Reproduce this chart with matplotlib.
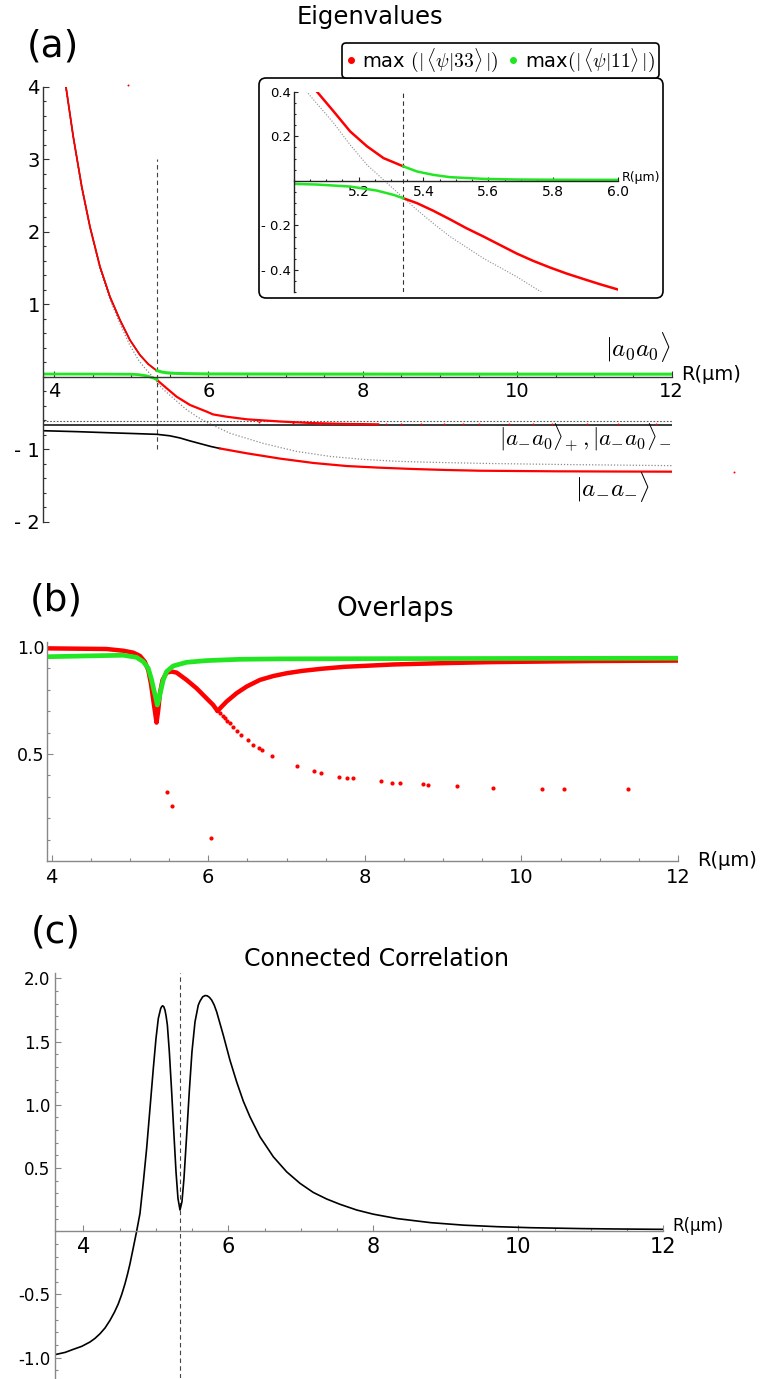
import matplotlib
matplotlib.use("Agg")
import matplotlib.pyplot as plt
from matplotlib.patches import FancyBboxPatch
from matplotlib.lines import Line2D
from matplotlib.ticker import MultipleLocator, FixedLocator, FixedFormatter

plt.rcParams['font.family'] = ['DejaVu Sans']
plt.rcParams['mathtext.fontset'] = 'cm'

# ---------------------------------------------------------------- data
R_CROSS = 5.335
cross_span = [-1.0, 3.0]

# (a) eigenvalues, main panel
a_up_red_R = [4.155, 4.25, 4.36, 4.466, 4.596, 4.725, 4.855, 4.984, 5.114, 5.22, 5.308, 5.335]
a_up_red_E = [4.0, 3.31, 2.62, 2.07, 1.517, 1.103, 0.782, 0.506, 0.299, 0.175, 0.102, 0.083]
a_up_green_R = [5.335, 5.395, 5.46, 5.546, 5.7, 5.98, 7.0, 9.0, 12.0]
a_up_green_E = [0.083, 0.065, 0.054, 0.047, 0.042, 0.038, 0.036, 0.035, 0.035]
a_low_green_R = [3.854, 4.5, 5.0, 5.1, 5.2, 5.28, 5.335]
a_low_green_E = [0.037, 0.036, 0.034, 0.028, 0.012, -0.015, -0.04]
a_low_red_R = [5.335, 5.4, 5.46, 5.589, 5.762, 5.978, 6.06, 6.237, 6.5, 6.93, 7.36, 7.8, 8.2]
a_low_red_E = [-0.045, -0.105, -0.16, -0.276, -0.39, -0.482, -0.52, -0.552, -0.588, -0.618, -0.64, -0.652, -0.657]
a_pair_dots_R = [6.65, 7.1, 7.3, 7.45, 7.6, 7.85, 8.0, 8.3, 8.5, 8.75, 9.05, 9.3, 9.5, 9.9, 10.2, 10.45, 10.9, 11.3, 11.8]
a_pair_dots_E = [-0.625, -0.64, -0.645, -0.648, -0.65, -0.652, -0.654, -0.655, -0.655, -0.656, -0.656,
                 -0.657, -0.657, -0.657, -0.658, -0.658, -0.658, -0.658, -0.658]
a_ll_black_R = [3.854, 4.3, 4.68, 5.0, 5.335, 5.5, 5.632, 5.76, 5.9, 6.03, 6.15]
a_ll_black_E = [-0.745, -0.758, -0.772, -0.783, -0.795, -0.815, -0.845, -0.885, -0.925, -0.962, -0.99]
a_ll_red_R = [6.15, 6.5, 6.93, 7.36, 7.79, 8.22, 8.65, 9.09, 9.52, 10.5, 11.3, 12.0]
a_ll_red_E = [-0.99, -1.057, -1.13, -1.19, -1.232, -1.255, -1.273, -1.287, -1.297, -1.305, -1.308, -1.31]
a_dia_R = [4.15, 4.25, 4.36, 4.47, 4.6, 4.73, 4.86, 4.98, 5.1, 5.2, 5.28, 5.4, 5.55, 5.7, 5.85, 5.98,
           6.28, 6.71, 7.14, 7.58, 8.0, 8.44, 8.87, 9.52, 10.5, 12.0]
a_dia_E = [4.0, 3.28, 2.58, 2.02, 1.47, 1.05, 0.72, 0.44, 0.22, 0.09, 0.0, -0.16, -0.3, -0.44, -0.55, -0.63,
           -0.78, -0.92, -1.03, -1.10, -1.14, -1.167, -1.18, -1.195, -1.21, -1.227]
a_pair_level = -0.66
a_pair_dia_level = -0.615
a_stray_R = [4.96, 12.81]
a_stray_E = [4.02, -1.32]

# (a) eigenvalues, close-up around the avoided crossing
in_up_red_R = [5.072, 5.123, 5.174, 5.226, 5.277, 5.338]
in_up_red_E = [0.4, 0.312, 0.222, 0.155, 0.102, 0.065]
in_up_green_R = [5.338, 5.38, 5.43, 5.482, 5.585, 5.687, 5.8, 6.0]
in_up_green_E = [0.065, 0.042, 0.027, 0.0165, 0.009, 0.006, 0.005, 0.0045]
in_low_green_R = [5.0, 5.072, 5.174, 5.256, 5.308, 5.338]
in_low_green_E = [-0.0135, -0.0165, -0.0255, -0.0435, -0.063, -0.078]
in_low_red_R = [5.338, 5.38, 5.43, 5.482, 5.533, 5.585, 5.636, 5.687, 5.738, 5.79, 5.841, 5.892, 5.944, 6.0]
in_low_red_E = [-0.078, -0.10, -0.134, -0.173, -0.213, -0.25, -0.288, -0.326, -0.359, -0.389, -0.416,
                -0.44, -0.464, -0.488]
in_dia_R = [5.039, 5.123, 5.174, 5.226, 5.277, 5.328, 5.38, 5.436, 5.482, 5.585, 5.687, 5.764]
in_dia_E = [0.402, 0.26, 0.162, 0.072, 0.0045, -0.063, -0.13, -0.198, -0.25, -0.348, -0.43, -0.5]

# (b) overlaps
b_red_R = [3.945, 4.70, 4.915, 5.043, 5.128, 5.19, 5.234, 5.268, 5.298, 5.323, 5.34, 5.362, 5.383,
           5.417, 5.468, 5.532, 5.596, 5.723, 5.851, 5.979, 6.064, 6.119]
b_red_O = [0.992, 0.989, 0.981, 0.972, 0.957, 0.930, 0.891, 0.829, 0.752, 0.689, 0.646, 0.705, 0.783,
           0.845, 0.879, 0.884, 0.879, 0.845, 0.806, 0.759, 0.728, 0.700]
b_red2_R = [6.119, 6.17, 6.234, 6.362, 6.49, 6.66, 6.83, 7.0, 7.2, 7.45, 7.74, 8.37, 9.0, 9.63, 10.89, 12.0]
b_red2_O = [0.700, 0.720, 0.744, 0.783, 0.814, 0.845, 0.863, 0.876, 0.887, 0.897, 0.906, 0.917, 0.923,
            0.928, 0.933, 0.935]
b_red_pts_R = [6.149, 6.183, 6.213, 6.243, 6.277, 6.311, 6.37, 6.417, 6.511, 6.574, 6.643, 6.689, 6.809,
               7.138, 7.345, 7.439, 7.666, 7.773, 7.855, 8.20, 8.345, 8.446, 8.747, 8.81, 9.175, 9.641,
               10.257, 10.539, 11.358, 5.477, 5.532, 6.03]
b_red_pts_O = [0.689, 0.677, 0.666, 0.655, 0.643, 0.627, 0.609, 0.589, 0.565, 0.542, 0.526, 0.519, 0.491,
               0.444, 0.422, 0.410, 0.394, 0.389, 0.386, 0.374, 0.366, 0.366, 0.359, 0.354, 0.349, 0.341,
               0.338, 0.335, 0.335, 0.321, 0.259, 0.107]
b_green_R = [3.945, 4.489, 4.915, 5.085, 5.17, 5.234, 5.277, 5.306, 5.332, 5.349, 5.37, 5.391, 5.426,
             5.468, 5.553, 5.723, 5.979, 6.404, 6.915, 8.37, 10.0, 12.0]
b_green_O = [0.953, 0.957, 0.960, 0.950, 0.930, 0.899, 0.845, 0.798, 0.759, 0.728, 0.752, 0.790, 0.845,
             0.884, 0.910, 0.927, 0.935, 0.941, 0.943, 0.944, 0.945, 0.946]

# (c) connected correlation
c_R = [3.609, 3.75, 3.862, 3.98, 4.092, 4.16, 4.23, 4.3, 4.368, 4.43, 4.483, 4.53, 4.575, 4.61, 4.644,
       4.69, 4.736, 4.782, 4.829, 4.874, 4.92, 4.966, 5.003, 5.035, 5.068, 5.082, 5.095, 5.111, 5.127,
       5.143, 5.16, 5.187, 5.219, 5.251, 5.279, 5.306, 5.334, 5.361, 5.389, 5.426, 5.462, 5.499, 5.541,
       5.586, 5.61, 5.647, 5.68, 5.71, 5.74, 5.771, 5.805, 5.84, 5.931, 6.023, 6.115, 6.207, 6.299,
       6.437, 6.621, 6.805, 6.989, 7.172, 7.357, 7.541, 7.771, 8.0, 8.33, 8.79, 9.25, 9.71, 10.17,
       10.87, 11.33, 12.0]
c_C = [-0.976, -0.958, -0.934, -0.91, -0.876, -0.848, -0.811, -0.765, -0.705, -0.64, -0.574, -0.5, -0.416,
       -0.34, -0.258, -0.13, 0.0, 0.141, 0.392, 0.655, 0.971, 1.288, 1.525, 1.683, 1.762, 1.777, 1.783,
       1.775, 1.749, 1.70, 1.63, 1.419, 1.103, 0.76, 0.47, 0.26, 0.168, 0.233, 0.418, 0.76, 1.103, 1.419,
       1.656, 1.788, 1.82, 1.854, 1.864, 1.862, 1.85, 1.828, 1.79, 1.735, 1.551, 1.353, 1.182, 1.029,
       0.905, 0.747, 0.589, 0.47, 0.379, 0.307, 0.255, 0.213, 0.168, 0.135, 0.1, 0.068, 0.048, 0.036,
       0.028, 0.021, 0.018, 0.015]

x_major = [4, 6, 8, 10, 12]
a_yticks = [-2, -1, 1, 2, 3, 4]
a_yticklabels = ['- 2', '- 1', '1', '2', '3', '4']
in_xticks = [5.2, 5.4, 5.6, 5.8, 6.0]
in_yticks = [-0.4, -0.2, 0.2, 0.4]
in_yticklabels = ['- 0.4', '- 0.2', '0.2', '0.4']
b_yticks = [0.5, 1.0]
c_yticks = [-1.0, -0.5, 0.5, 1.0, 1.5, 2.0]

RED = '#ff0000'
GREEN = '#22e622'

# ---------------------------------------------------------------- figure
W, H = 772, 1379
fig = plt.figure(figsize=(W / 100, H / 100), dpi=100)


def px_rect(left, top, right, bottom):
    return [left / W, 1 - bottom / H, (right - left) / W, (bottom - top) / H]


def axis_style(ax, color, xlim, ylim, zero_x=True, xfs=14, yfs=12, xpad=3.5, ypad=2.5,
               xminor=0.5, yminor=0.2, lw=1.0):
    ax.set_xlim(*xlim)
    ax.set_ylim(*ylim)
    for side in ('top', 'right'):
        ax.spines[side].set_visible(False)
    if zero_x:
        ax.spines['bottom'].set_position(('data', 0))
    for side in ('left', 'bottom'):
        ax.spines[side].set_color(color)
        ax.spines[side].set_linewidth(lw)
    ax.patch.set_visible(False)
    ax.xaxis.set_minor_locator(MultipleLocator(xminor))
    ax.yaxis.set_minor_locator(MultipleLocator(yminor))
    ax.tick_params(which='both', direction='in', color=color, width=0.8)
    ax.tick_params(which='major', length=4)
    ax.tick_params(which='minor', length=2)
    ax.tick_params(axis='x', labelsize=xfs, pad=xpad)
    ax.tick_params(axis='y', labelsize=yfs, pad=ypad)


# ---- (a) eigenvalues
ax_a = fig.add_axes(px_rect(42.7, 86.7, 671.6, 521.7))
axis_style(ax_a, '#333333', (3.854, 12), (-2, 4), xfs=14, yfs=14, ypad=2, yminor=0.2)
ax_a.xaxis.set_major_locator(FixedLocator(x_major))
ax_a.yaxis.set_major_locator(FixedLocator(a_yticks))
ax_a.yaxis.set_major_formatter(FixedFormatter(a_yticklabels))

ax_a.plot(a_dia_R, a_dia_E, color='#8c8c8c', lw=0.9, ls=(0, (1, 1.5)))
ax_a.axhline(a_pair_dia_level, color='#555555', lw=0.8, ls=(0, (1.5, 1.5)))
ax_a.axhline(a_pair_level, color='#3a3a3a', lw=1.4)
ax_a.plot([R_CROSS, R_CROSS], cross_span, color='#444444', lw=0.8, ls=(0, (4, 3)))
ax_a.plot(a_ll_black_R, a_ll_black_E, color='black', lw=1.2)
ax_a.plot(a_ll_red_R, a_ll_red_E, color=RED, lw=1.6)
ax_a.plot(a_low_red_R, a_low_red_E, color=RED, lw=1.6)
ax_a.scatter(a_pair_dots_R, a_pair_dots_E, s=2, color=RED, lw=0, zorder=4)
ax_a.plot(a_up_red_R, a_up_red_E, color='black', lw=1.0)
ax_a.plot(a_up_red_R, a_up_red_E, color=RED, lw=1.3)
ax_a.plot(a_low_green_R, a_low_green_E, color=GREEN, lw=2.0)
ax_a.plot(a_up_green_R, a_up_green_E, color=GREEN, lw=2.2)
ax_a.scatter(a_stray_R, a_stray_E, s=2, color=RED, lw=0, clip_on=False)

ax_a.text(12.12, 0.03, 'R(μm)', fontsize=14, ha='left', va='center', clip_on=False)
ax_a.text(11.565, 0.41, r'$|a_0 a_0\rangle$', fontsize=18, ha='center', va='center')
ax_a.text(12.0, -0.83, r'$|a_{-} a_0\rangle_{+}\,,|a_{-} a_0\rangle_{-}$', fontsize=16.5,
          ha='right', va='center')
ax_a.text(11.24, -1.52, r'$|a_{-} a_{-}\rangle$', fontsize=18, ha='center', va='center')

# ---- inset frame and close-up
frame = FancyBboxPatch((259 / 100, (H - 298) / 100), (663 - 259) / 100, (298 - 78) / 100,
                       boxstyle='round,pad=0,rounding_size=0.07', transform=fig.dpi_scale_trans,
                       facecolor='white', edgecolor='black', lw=1.2, zorder=1)
fig.patches.append(frame)

ax_in = fig.add_axes(px_rect(293.6, 91.7, 618.3, 292.3))
ax_in.set_zorder(2)
axis_style(ax_in, '#222222', (5.0, 6.0), (-0.5, 0.4), xfs=10, yfs=9.5, xpad=3, ypad=2,
           xminor=0.05, yminor=0.05)
ax_in.tick_params(which='major', length=3)
ax_in.tick_params(which='minor', length=1.5)
ax_in.xaxis.set_major_locator(FixedLocator(in_xticks))
ax_in.yaxis.set_major_locator(FixedLocator(in_yticks))
ax_in.yaxis.set_major_formatter(FixedFormatter(in_yticklabels))
ax_in.plot(in_dia_R, in_dia_E, color='#8c8c8c', lw=0.8, ls=(0, (1, 1.5)))
ax_in.axvline(R_CROSS + 0.0025, color='#333333', lw=0.8, ls=(0, (4, 3)))
ax_in.plot(in_up_red_R, in_up_red_E, color=RED, lw=1.8)
ax_in.plot(in_low_red_R, in_low_red_E, color=RED, lw=1.8)
ax_in.plot(in_up_green_R, in_up_green_E, color=GREEN, lw=1.8)
ax_in.plot(in_low_green_R, in_low_green_E, color=GREEN, lw=1.8)
ax_in.text(6.01, 0.016, 'R(μm)', fontsize=9, ha='left', va='center', clip_on=False)

handles = [Line2D([], [], ls='none', marker='o', ms=4, color=RED),
           Line2D([], [], ls='none', marker='o', ms=4, color=GREEN)]
labels = [r'max $(|\,\langle\psi|33\rangle\,|)$', r'max$(|\,\langle\psi|11\rangle\,|)$']
leg = fig.legend(handles, labels, loc='center', bbox_to_anchor=(500.5 / W, 1 - 60.5 / H),
                 bbox_transform=fig.transFigure, ncol=2, fontsize=14, frameon=True, fancybox=True,
                 edgecolor='black', framealpha=1, handlelength=0.5, handletextpad=0.35,
                 columnspacing=0.5, borderpad=0.2)
leg.get_frame().set_linewidth(1.2)

# ---- (b) overlaps
ax_b = fig.add_axes(px_rect(47.3, 641.7, 678.1, 861.3))
axis_style(ax_b, '#888888', (3.945, 12), (0, 1.023), zero_x=False, xfs=14, yfs=12.5, xpad=5,
           ypad=2, yminor=0.1)
ax_b.xaxis.set_major_locator(FixedLocator(x_major))
ax_b.yaxis.set_major_locator(FixedLocator(b_yticks))
ax_b.yaxis.set_major_formatter(FixedFormatter(['0.5', '1.0']))
ax_b.plot(b_red_R, b_red_O, color=RED, lw=3.2, solid_capstyle='round', solid_joinstyle='round')
ax_b.plot(b_red2_R, b_red2_O, color=RED, lw=3.2, solid_capstyle='round', solid_joinstyle='round')
ax_b.plot(b_green_R, b_green_O, color=GREEN, lw=3.4, solid_capstyle='round', solid_joinstyle='round')
ax_b.scatter(b_red_pts_R, b_red_pts_O, s=9, color=RED, lw=0, zorder=4)
ax_b.text(12.24, 0.005, 'R(μm)', fontsize=14, ha='left', va='center', clip_on=False)

# ---- (c) connected correlation
ax_c = fig.add_axes(px_rect(55, 973.3, 663.3, 1378.3))
axis_style(ax_c, '#888888', (3.61, 12), (-1.163, 2.04), xfs=15, yfs=12, xpad=4, ypad=3.5,
           yminor=0.1)
ax_c.xaxis.set_major_locator(FixedLocator(x_major))
ax_c.yaxis.set_major_locator(FixedLocator(c_yticks))
ax_c.yaxis.set_major_formatter(FixedFormatter(['-1.0', '-0.5', '0.5', '1.0', '1.5', '2.0']))
ax_c.axvline(R_CROSS, color='#444444', lw=0.8, ls=(0, (4, 3)))
ax_c.plot(c_R, c_C, color='black', lw=1.2, solid_joinstyle='round')
ax_c.text(12.12, 0.04, 'R(μm)', fontsize=12, ha='left', va='center', clip_on=False)

# ---- titles and panel letters
fig.text(370 / W, 1 - 17 / H, 'Eigenvalues', fontsize=17.5, ha='center', va='center')
fig.text(395 / W, 1 - 609 / H, 'Overlaps', fontsize=19, ha='center', va='center')
fig.text(376.5 / W, 1 - 959 / H, 'Connected Correlation', fontsize=17, ha='center', va='center')
fig.text(53 / W, 1 - 47 / H, '(a)', fontsize=27, ha='center', va='center')
fig.text(56.6 / W, 1 - 600 / H, '(b)', fontsize=27, ha='center', va='center')
fig.text(55.5 / W, 1 - 932 / H, '(c)', fontsize=27, ha='center', va='center')

fig.savefig('out.png', dpi=100)
